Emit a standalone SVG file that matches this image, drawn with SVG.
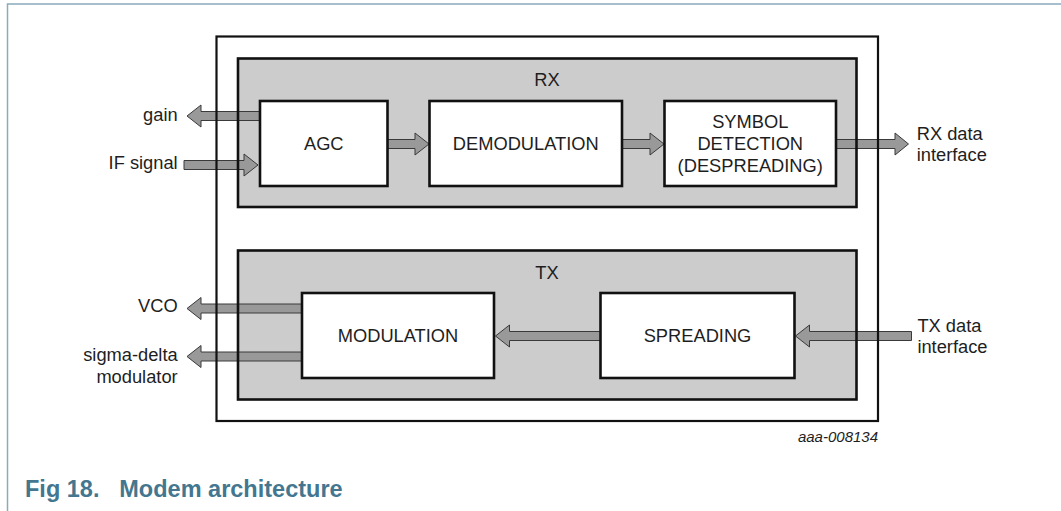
<svg xmlns="http://www.w3.org/2000/svg" width="1061" height="511" viewBox="0 0 1061 511">
  <defs>
    <style>
      .t { font-family: "Liberation Sans", Arial, sans-serif; font-size: 18.3px; fill: #1e1e1e; }
      .mid { text-anchor: middle; }
      .end { text-anchor: end; }
      .box { fill: #ffffff; stroke: #111111; stroke-width: 2.6; }
      .cfill { fill: #cccccc; stroke: none; }
      .cline { fill: none; stroke: #111111; stroke-width: 2.6; }
      .outer { fill: none; stroke: #111111; stroke-width: 2.2; }
      .arrow { fill: #999999; stroke: #3a3a3a; stroke-width: 1; stroke-linejoin: miter; }
      .frame { stroke: #8aaabd; stroke-width: 1.5; fill: none; }
      .cap { font-family: "Liberation Sans", Arial, sans-serif; font-size: 23.5px; font-weight: bold; fill: #44778f; }
      .ref { font-family: "Liberation Sans", Arial, sans-serif; font-size: 15px; font-style: italic; fill: #1e1e1e; text-anchor: end; }
    </style>
  </defs>
  <rect x="0" y="0" width="1061" height="511" fill="#ffffff"/>

  <g id="page-frame">
    <path class="frame" d="M7.5,511 L7.5,4 L1061,4"/>
  </g>

  <g id="backgrounds">
    <rect x="216.5" y="36.5" width="661.5" height="384.5" fill="#ffffff"/>
    <rect class="cfill" x="238" y="58.5" width="618.5" height="148.5"/>
    <rect class="cfill" x="238" y="250.5" width="618.5" height="149"/>
  </g>

  <g id="connectors">
    <path class="arrow" d="M260,111.5 L201,111.5 L201,105 L187,116 L201,127 L201,120.5 L260,120.5 Z"/>
    <path class="arrow" d="M184,160.5 L244,160.5 L244,154 L258,165 L244,176 L244,169.5 L184,169.5 Z"/>
    <path class="arrow" d="M387.5,139.5 L415,139.5 L415,133 L429,144 L415,155 L415,148.5 L387.5,148.5 Z"/>
    <path class="arrow" d="M622,139.5 L650,139.5 L650,133 L664,144 L650,155 L650,148.5 L622,148.5 Z"/>
    <path class="arrow" d="M836,139.5 L895,139.5 L895,133 L908.5,144 L895,155 L895,148.5 L836,148.5 Z"/>
    <path class="arrow" d="M302,304 L201,304 L201,297.5 L187,308.5 L201,319.5 L201,313 L302,313 Z"/>
    <path class="arrow" d="M302,352 L201,352 L201,345.5 L187,356.5 L201,367.5 L201,361 L302,361 Z"/>
    <path class="arrow" d="M600.5,331.5 L509.5,331.5 L509.5,325 L495.5,336 L509.5,347 L509.5,340.5 L600.5,340.5 Z"/>
    <path class="arrow" d="M911.5,331.5 L809.5,331.5 L809.5,325 L795.5,336 L809.5,347 L809.5,340.5 L911.5,340.5 Z"/>
  </g>

  <g id="modem">
    <rect class="outer" x="216.5" y="36.5" width="661.5" height="384.5"/>
  </g>

  <g id="rx">
    <rect class="cline" x="238" y="58.5" width="618.5" height="148.5"/>
    <text class="t mid" x="547" y="86">RX</text>
  </g>

  <g id="tx">
    <rect class="cline" x="238" y="250.5" width="618.5" height="149"/>
    <text class="t mid" x="547" y="278.5">TX</text>
  </g>

  <g id="agc">
    <rect class="box" x="260" y="101" width="127.5" height="85"/>
    <text class="t mid" x="323.75" y="150">AGC</text>
  </g>

  <g id="demodulation">
    <rect class="box" x="429.5" y="101" width="192.5" height="85"/>
    <text class="t mid" x="525.75" y="150">DEMODULATION</text>
  </g>

  <g id="symbol-detection">
    <rect class="box" x="664.5" y="101" width="171.5" height="85"/>
    <text class="t mid" x="750.25" y="128.3">SYMBOL</text>
    <text class="t mid" x="750.25" y="150.3">DETECTION</text>
    <text class="t mid" x="750.25" y="172.3">(DESPREADING)</text>
  </g>

  <g id="modulation">
    <rect class="box" x="302" y="293" width="192" height="85"/>
    <text class="t mid" x="398" y="341.5">MODULATION</text>
  </g>

  <g id="spreading">
    <rect class="box" x="600.5" y="293" width="194" height="85"/>
    <text class="t mid" x="697.5" y="341.5">SPREADING</text>
  </g>

  <g id="labels">
    <text class="t end" x="177.7" y="120.7">gain</text>
    <text class="t end" x="177.7" y="169">IF signal</text>
    <text class="t" x="916.7" y="140">RX data</text>
    <text class="t" x="916.7" y="161">interface</text>
    <text class="t end" x="177.7" y="311.7">VCO</text>
    <text class="t end" x="177.7" y="360.7">sigma-delta</text>
    <text class="t end" x="177.7" y="382.7">modulator</text>
    <text class="t" x="917.4" y="331.7">TX data</text>
    <text class="t" x="917.4" y="353.3">interface</text>
    <text class="ref" x="878" y="441.7">aaa-008134</text>
  </g>

  <g id="caption">
    <text class="cap" y="496.7"><tspan x="25">Fig 18.</tspan><tspan x="119.3">Modem architecture</tspan></text>
  </g>
</svg>
